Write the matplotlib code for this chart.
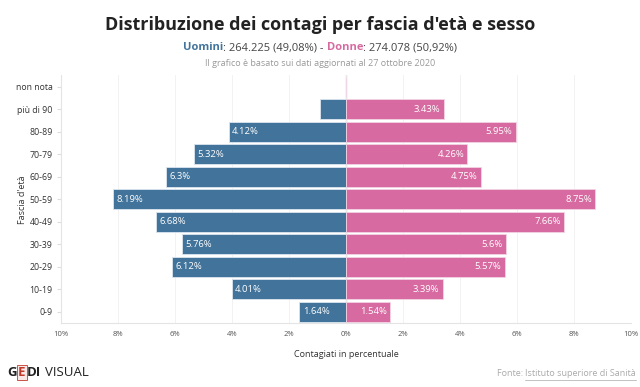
import matplotlib.pyplot as plt
import numpy as np

plt.rcParams['font.family'] = ['Open Sans', 'DejaVu Sans']

fasce = ['0-9', '10-19', '20-29', '30-39', '40-49', '50-59', '60-69',
         '70-79', '80-89', 'più di 90', 'non nota']
uomini = [1.64, 4.01, 6.12, 5.76, 6.68, 8.19, 6.3, 5.32, 4.12, 0.93, 0.01]
donne = [1.54, 3.39, 5.57, 5.6, 7.66, 8.75, 4.75, 4.26, 5.95, 3.43, 0.01]
xticks = [-10, -8, -6, -4, -2, 0, 2, 4, 6, 8, 10]

blu = '#41739b'
rosa = '#d76ba1'

fig = plt.figure(figsize=(6.4, 3.87), dpi=100)
ax = fig.add_axes([0.0953, 0.165, 0.8907, 0.64])

y = np.arange(len(fasce))
ax.barh(y, [-v for v in uomini], height=0.88, color=blu, edgecolor='#dbe6ef', linewidth=0.6, zorder=2)
ax.barh(y, donne, height=0.88, color=rosa, edgecolor='#f3d3e4', linewidth=0.6, zorder=2)

for i in range(len(fasce)):
    if uomini[i] >= 1:
        ax.text(-uomini[i] + 0.12, y[i], f'{uomini[i]:g}%', color='white',
                ha='left', va='center', fontsize=6.8, zorder=3)
    if donne[i] >= 1:
        ax.text(donne[i] - 0.12, y[i], f'{donne[i]:g}%', color='white',
                ha='right', va='center', fontsize=6.8, zorder=3)

ax.axvline(0, color='#cccccc', linewidth=1, zorder=1)
ax.set_xlim(-10, 10)
ax.set_ylim(-0.5, len(fasce) - 0.5)
ax.set_xticks(xticks)
ax.set_xticklabels([f'{abs(t)}%' for t in xticks], fontsize=5.5, color='#555555')
ax.set_yticks(y)
ax.set_yticklabels(fasce, fontsize=6.3, color='#333333')
ax.tick_params(axis='x', length=0, pad=6)
ax.tick_params(axis='y', length=3, color='#dddddd', pad=3)
ax.grid(axis='x', color='#f0f0f0', linewidth=0.6, zorder=0)
for s in ['top', 'right']:
    ax.spines[s].set_visible(False)
ax.spines['left'].set_color('#e4e4e4')
ax.spines['bottom'].set_color('#e4e4e4')
ax.set_xlabel('Contagiati in percentuale', fontsize=6.5, color='#333333', labelpad=8)
ax.set_ylabel("Fascia d'età", fontsize=6.5, color='#333333', va='center')
ax.yaxis.set_label_coords(-0.068, 0.5)

fig.text(0.5, 0.935, "Distribuzione dei contagi per fascia d'età e sesso",
         ha='center', va='center', fontsize=13, fontweight='bold', color='#222222')

fig.canvas.draw()
r = fig.canvas.get_renderer()


def larghezza(t, **kw):
    tt = fig.text(0, 0, t, **kw)
    w = tt.get_window_extent(r).width / fig.bbox.width
    tt.remove()
    return w


# sottotitolo a colori
parts = [('Uomini', blu, 'bold'), (': 264.225 (49,08%) - ', '#444444', 'normal'),
         ('Donne', rosa, 'bold'), (': 274.078 (50,92%)', '#444444', 'normal')]
widths = [larghezza(t, fontsize=8, fontweight=w) for t, c, w in parts]
x0 = 0.5 - sum(widths) / 2
for (t, c, w), wd in zip(parts, widths):
    fig.text(x0, 0.877, t, fontsize=8, fontweight=w, color=c, va='center')
    x0 += wd

fig.text(0.5, 0.835, 'Il grafico è basato sui dati aggiornati al 27 ottobre 2020',
         ha='center', va='center', fontsize=6.5, color='#999999')

# logo
ly = 0.038
x0 = 0.011
for t, c, w in [('G', '#222222', 'bold'), ('E', '#c0392b', 'bold'),
                ('DI', '#222222', 'bold'), ('VISUAL', '#222222', 'normal')]:
    kw = dict(fontsize=9.5, fontweight=w, color=c, va='center')
    if t == 'E':
        kw['bbox'] = dict(boxstyle='square,pad=0.08', fc='#fbe9e7', ec='#c0392b', lw=0.6)
    fig.text(x0, ly, t, **kw)
    x0 += larghezza(t, fontsize=9.5, fontweight=w) + (0.006 if t == 'DI' else 0.002)

# fonte
src = 'Istituto superiore di Sanità'
ws = larghezza(src, fontsize=6.5)
fig.text(0.994 - ws, 0.036, 'Fonte: ', fontsize=6.5, color='#aaaaaa', ha='right', va='center')
fig.text(0.994, 0.036, src, fontsize=6.5, color='#aaaaaa', ha='right', va='center')
fig.add_artist(plt.Line2D([0.994 - ws, 0.994], [0.018, 0.018], color='#aaaaaa', lw=0.5))

fig.savefig('out.png', dpi=100)
